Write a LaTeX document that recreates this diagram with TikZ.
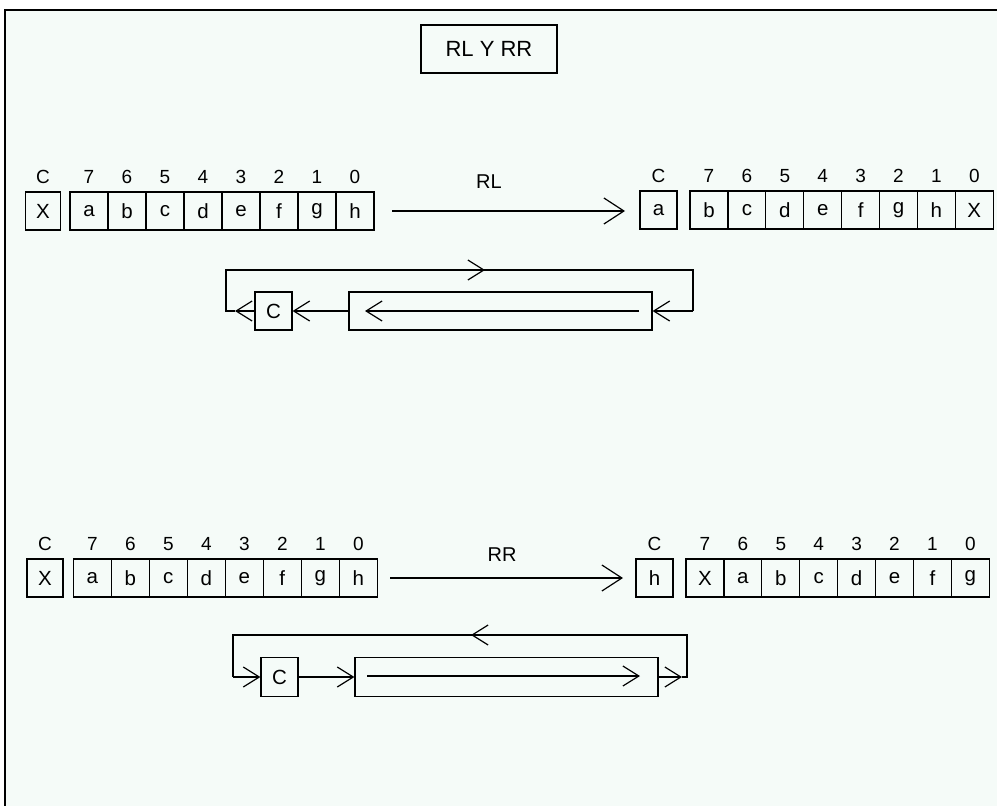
\documentclass[tikz,border=0pt]{standalone}
\usepackage{fontspec}
\setmainfont{Liberation Sans}
\usetikzlibrary{arrows.meta,positioning}
\definecolor{mintbg}{RGB}{245,251,248}

\begin{document}
\begin{tikzpicture}[x=1pt, y=-1pt,
    cell/.style={draw, line width=1.2pt, minimum width=38pt, minimum height=38pt, inner sep=0pt, font=\fontsize{20.5}{24}\selectfont},
    carry/.style={cell, minimum width=36pt},
    bitlabel/.style={font=\fontsize{19}{22}\selectfont, inner sep=0pt},
    reg/.style={draw, line width=1.2pt, minimum width=303pt, minimum height=38pt, inner sep=0pt},
    title/.style={draw, line width=2pt, minimum width=136pt, minimum height=48pt, font=\fontsize{22}{26}\selectfont},
    oplabel/.style={font=\fontsize{20}{24}\selectfont, inner sep=0pt},
    arrow/.style={-{Straight Barb[length=16pt, width=20pt]}, line width=1.2pt},
    bigarrow/.style={-{Straight Barb[length=20pt, width=26pt]}, line width=1.2pt},
    wire/.style={line width=1.2pt}
]
    \useasboundingbox (0,0) rectangle (997,806);
    \fill[mintbg] (5,10) rectangle (997,806);
    \draw[line width=1.2pt] (5,806) -- (5,10) -- (997,10);

    \node[title] (ttl) at (489,49) {RL Y RR};

    % RL: before
    \node[carry, minimum width=35pt] (ca) at (43,211) {X};
    \node[bitlabel, above=8pt of ca] {C};
    \foreach \t [count=\i from 0] in {a,b,c,d,e,f,g,h}
        \node[cell] (ra\i) at (89+38*\i,211) {\t};
    \foreach \b [count=\i from 0] in {7,6,...,0}
        \node[bitlabel, above=8pt of ra\i] {\b};

    % RL: after
    \node[carry, minimum width=37pt] (cb) at (658.5,210) {a};
    \node[bitlabel, above=8pt of cb] {C};
    \foreach \t [count=\i from 0] in {b,c,d,e,f,g,h,X}
        \node[cell, minimum width=37.9pt] (rb\i) at (709+37.9*\i,210) {\t};
    \foreach \b [count=\i from 0] in {7,6,...,0}
        \node[bitlabel, above=8pt of rb\i] {\b};

    \draw[bigarrow] (392,211) coordinate (rlA) -- (625,211) coordinate (rlB);
    \node[oplabel] (rl) at (489,182) {RL};

    % RL loop
    \node[cell, minimum width=37pt] (cL) at (273.5,311) {C};
    \node[reg] (regL) at (500.5,311) {};
    \coordinate (inL1) at (639,311);
    \coordinate (inL2) at (365,311);
    \coordinate (akL) at (235,311);
    \coordinate (lcL) at (226,311);
    \coordinate (tlL) at (226,270);
    \coordinate (tmL) at (485,270);
    \coordinate (trL) at (693,270);
    \coordinate (rcL) at (693,311);
    \draw[arrow] (inL1) -- (inL2);
    \draw[arrow] (regL.west) -- (cL.east);
    \draw[arrow] (cL.west) -- (akL);
    \draw[wire] (akL) -- (lcL) -- (tlL) -- (trL) -- (rcL);
    \draw[arrow] (tlL) -- (tmL);
    \draw[arrow] (rcL) -- (regL.east);

    % RR: before
    \node[carry] (cc) at (45,578) {X};
    \node[bitlabel, above=8pt of cc] {C};
    \foreach \t [count=\i from 0] in {a,b,c,d,e,f,g,h}
        \node[cell] (rc\i) at (92.3+38*\i,578) {\t};
    \foreach \b [count=\i from 0] in {7,6,...,0}
        \node[bitlabel, above=8pt of rc\i] {\b};

    % RR: after
    \node[carry, minimum width=37pt] (cd) at (654.5,578) {h};
    \node[bitlabel, above=8pt of cd] {C};
    \foreach \t [count=\i from 0] in {X,a,b,c,d,e,f,g}
        \node[cell, minimum width=37.9pt] (rd\i) at (705+37.9*\i,578) {\t};
    \foreach \b [count=\i from 0] in {7,6,...,0}
        \node[bitlabel, above=8pt of rd\i] {\b};

    \draw[bigarrow] (390,578) coordinate (rrA) -- (623,578) coordinate (rrB);
    \node[oplabel] (rr) at (502,555) {RR};

    % RR loop
    \node[cell, minimum width=37pt, minimum height=39pt] (cR) at (279.5,677) {C};
    \node[reg, minimum height=39pt] (regR) at (506.5,677) {};
    \coordinate (inR1) at (367,676);
    \coordinate (inR2) at (640,676);
    \coordinate (akR) at (682,677);
    \coordinate (rcR) at (687,677);
    \coordinate (trR) at (687,635);
    \coordinate (tmR) at (471,635);
    \coordinate (tlR) at (233,635);
    \coordinate (lcR) at (233,677);
    \draw[arrow] (inR1) -- (inR2);
    \draw[arrow] (cR.east) -- (regR.west);
    \draw[arrow] (regR.east) -- (akR);
    \draw[wire] (akR) -- (rcR) -- (trR) -- (tlR) -- (lcR);
    \draw[arrow] (trR) -- (tmR);
    \draw[arrow] (lcR) -- (cR.west);
\end{tikzpicture}
\end{document}
